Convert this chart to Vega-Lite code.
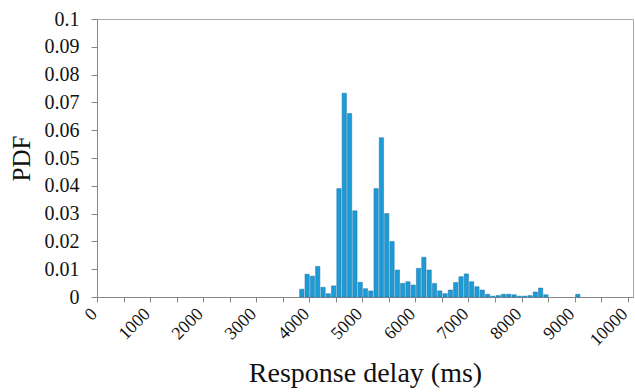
{
  "$schema": "https://vega.github.io/schema/vega-lite/v6.json",
  "width": 536,
  "height": 278,
  "autosize": "none",
  "padding": {"left": 97, "top": 19, "right": 2, "bottom": 95},
  "background": "white",
  "config": {
    "view": {"stroke": "#a8a8a8", "strokeWidth": 1},
    "font": "Liberation Serif"
  },
  "data": {
    "values": [
      {"start": 3800, "end": 3900, "pdf": 0.0028},
      {"start": 3900, "end": 4000, "pdf": 0.0082},
      {"start": 4000, "end": 4100, "pdf": 0.0075},
      {"start": 4100, "end": 4200, "pdf": 0.011},
      {"start": 4200, "end": 4300, "pdf": 0.0035},
      {"start": 4300, "end": 4400, "pdf": 0.0012},
      {"start": 4400, "end": 4500, "pdf": 0.004},
      {"start": 4500, "end": 4600, "pdf": 0.039},
      {"start": 4600, "end": 4700, "pdf": 0.0733},
      {"start": 4700, "end": 4800, "pdf": 0.066},
      {"start": 4800, "end": 4900, "pdf": 0.031},
      {"start": 4900, "end": 5000, "pdf": 0.0053},
      {"start": 5000, "end": 5100, "pdf": 0.003},
      {"start": 5100, "end": 5200, "pdf": 0.0022},
      {"start": 5200, "end": 5300, "pdf": 0.039},
      {"start": 5300, "end": 5400, "pdf": 0.0573},
      {"start": 5400, "end": 5500, "pdf": 0.030},
      {"start": 5500, "end": 5600, "pdf": 0.020},
      {"start": 5600, "end": 5700, "pdf": 0.0097},
      {"start": 5700, "end": 5800, "pdf": 0.0049},
      {"start": 5800, "end": 5900, "pdf": 0.0055},
      {"start": 5900, "end": 6000, "pdf": 0.0043},
      {"start": 6000, "end": 6100, "pdf": 0.0103},
      {"start": 6100, "end": 6200, "pdf": 0.0143},
      {"start": 6200, "end": 6300, "pdf": 0.0097},
      {"start": 6300, "end": 6400, "pdf": 0.0049},
      {"start": 6400, "end": 6500, "pdf": 0.0022},
      {"start": 6500, "end": 6600, "pdf": 0.0012},
      {"start": 6600, "end": 6700, "pdf": 0.0025},
      {"start": 6700, "end": 6800, "pdf": 0.0052},
      {"start": 6800, "end": 6900, "pdf": 0.0073},
      {"start": 6900, "end": 7000, "pdf": 0.0083},
      {"start": 7000, "end": 7100, "pdf": 0.0055},
      {"start": 7100, "end": 7200, "pdf": 0.0037},
      {"start": 7200, "end": 7300, "pdf": 0.0025},
      {"start": 7300, "end": 7400, "pdf": 0.001},
      {"start": 7400, "end": 7500, "pdf": 0.0003},
      {"start": 7500, "end": 7600, "pdf": 0.0005},
      {"start": 7600, "end": 7700, "pdf": 0.001},
      {"start": 7700, "end": 7800, "pdf": 0.001},
      {"start": 7800, "end": 7900, "pdf": 0.0008},
      {"start": 7900, "end": 8000, "pdf": 0.0003},
      {"start": 8000, "end": 8100, "pdf": 0.0003},
      {"start": 8100, "end": 8200, "pdf": 0.0005},
      {"start": 8200, "end": 8300, "pdf": 0.0018},
      {"start": 8300, "end": 8400, "pdf": 0.0032},
      {"start": 8400, "end": 8500, "pdf": 0.0008},
      {"start": 9000, "end": 9100, "pdf": 0.001}
    ]
  },
  "mark": {"type": "bar", "fill": "#1c9bd6", "stroke": "#1a74a8", "strokeWidth": 0.5},
  "encoding": {
    "x": {
      "field": "start",
      "type": "quantitative",
      "bin": {"binned": true, "step": 100},
      "scale": {"domain": [0, 10100], "nice": false, "zero": false},
      "axis": {
        "values": [0, 500, 1000, 1500, 2000, 2500, 3000, 3500, 4000, 4500, 5000, 5500, 6000, 6500, 7000, 7500, 8000, 8500, 9000, 9500, 10000],
        "labelExpr": "datum.value % 1000 === 0 ? format(datum.value, 'd') : ''",
        "labelFont": "Liberation Serif",
        "labelFontWeight": "normal",
        "labelAngle": -45,
        "labelAlign": "right",
        "labelBaseline": "middle",
        "labelOffset": -3,
        "labelFontSize": 18,
        "labelColor": "#111",
        "labelFlush": false,
        "labelOverlap": false,
        "labelBound": false,
        "labelPadding": 9,
        "tickSize": 5,
        "tickColor": "#888",
        "domainColor": "#888",
        "grid": false,
        "title": "Response delay (ms)",
        "titleFont": "Liberation Serif",
        "titleFontSize": 28,
        "titleFontWeight": "normal",
        "titleColor": "#111",
        "titlePadding": 10
      }
    },
    "x2": {"field": "end"},
    "y": {
      "field": "pdf",
      "type": "quantitative",
      "scale": {"domain": [0, 0.1], "nice": false},
      "axis": {
        "values": [0, 0.01, 0.02, 0.03, 0.04, 0.05, 0.06, 0.07, 0.08, 0.09, 0.1],
        "format": "~g",
        "labelFont": "Liberation Serif",
        "labelFontWeight": "normal",
        "labelFontSize": 20,
        "labelColor": "#111",
        "labelPadding": 12,
        "labelFlush": false,
        "tickSize": 6,
        "tickColor": "#888",
        "domainColor": "#888",
        "grid": false,
        "title": "PDF",
        "titleFont": "Liberation Serif",
        "titleFontSize": 25,
        "titleFontWeight": "normal",
        "titleColor": "#111",
        "titlePadding": 10
      }
    }
  }
}
